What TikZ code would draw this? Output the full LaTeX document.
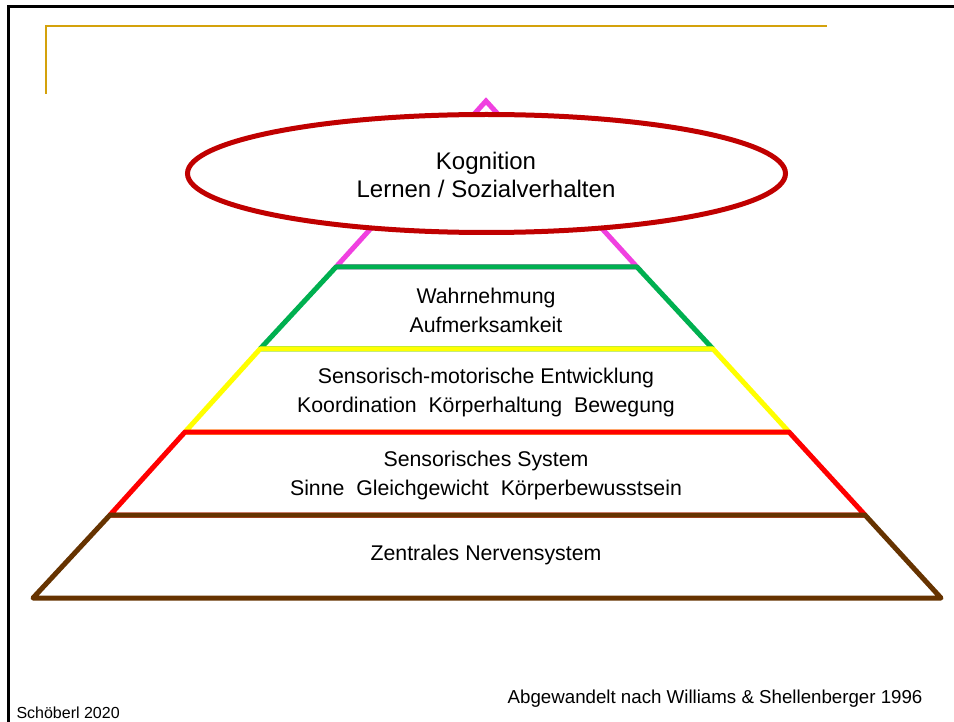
\documentclass[tikz,border=0pt]{standalone}
\usepackage{fontspec}
\setmainfont{Liberation Sans}
\definecolor{goldline}{HTML}{D4A20C}
\definecolor{pinkline}{HTML}{F040E0}
\definecolor{greenline}{HTML}{00B050}
\definecolor{yellowline}{HTML}{FFFF00}
\definecolor{redline}{HTML}{FF0000}
\definecolor{brownline}{HTML}{663300}
\definecolor{ovalred}{HTML}{C00000}
\tikzset{
	level/.style={line width=5pt, line join=round},
	leveltext/.style={align=center, font=\fontsize{21.3}{29}\selectfont},
}
\begin{document}
\begin{tikzpicture}[x=1pt, y=-1pt]
		\useasboundingbox (0,0) rectangle (954,722);
		\fill[white] (0,0) rectangle (954,722);
		% slide frame
		\draw[black, line width=3pt] (8,722) -- (8,7) -- (954,7);
		\draw[goldline, line width=2pt] (46,94) -- (46,26) -- (827,26);

		% pyramid, top level first
		\draw[level, pinkline, line join=miter] (486,101) -- (336,267) -- (637,267) -- cycle;
		\foreach \c/\yt/\yb/\xl/\xr/\xL/\xR in {
			greenline/267/349/336/637/260/713,
			yellowline/349/432/260/713/185/789,
			redline/432/515/185/789/110/865,
			brownline/515/598/110/865/33/941} {
			\draw[level, \c] (\xl,\yt) -- (\xr,\yt) -- (\xR,\yb) -- (\xL,\yb) -- cycle;
		}

		\fill[white, draw=ovalred, line width=5pt] (486.5,173.5) ellipse [x radius=299, y radius=59];
		\node[align=center, font=\fontsize{24}{28}\selectfont] (kog) at (486,175) {Kognition\\Lernen / Sozialverhalten};

		\node[leveltext] (wahr) at (486,310) {Wahrnehmung\\Aufmerksamkeit};
		\node[leveltext] (senmot) at (486,392) {Sensorisch-motorische Entwicklung\\Koordination~~Körperhaltung~~Bewegung};
		\node[leveltext] (sensys) at (486,475) {Sensorisches System\\Sinne~~Gleichgewicht~~Körperbewusstsein};
		\node[leveltext] (zns) at (486,555) {Zentrales Nervensystem};

		\node[anchor=base west, font=\fontsize{16}{18}\selectfont] (autor) at (13,718) {Schöberl 2020};
		\node[anchor=base east, font=\fontsize{18.7}{21}\selectfont] (quelle) at (926,703) {Abgewandelt nach Williams \& Shellenberger 1996};
	\end{tikzpicture}
\end{document}
